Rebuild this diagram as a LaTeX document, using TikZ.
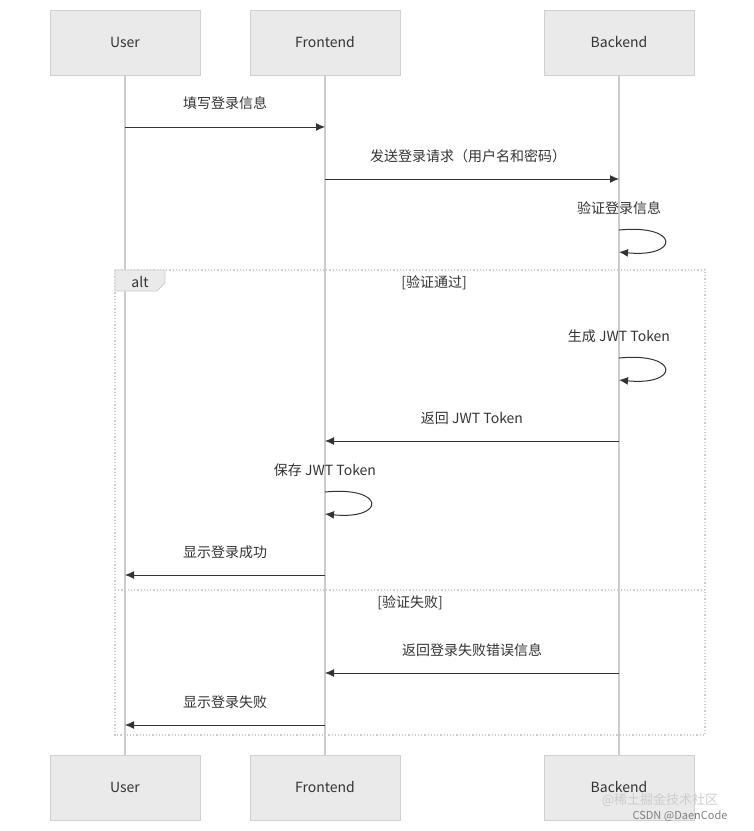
\documentclass[tikz,border=0pt]{standalone}
\usepackage{fontspec}
\setmainfont{Noto Sans CJK SC}
\usetikzlibrary{arrows.meta}
\definecolor{boxfill}{HTML}{EAEAEA}
\definecolor{boxline}{HTML}{D0D0D0}
\definecolor{life}{HTML}{CCCCCC}
\definecolor{ink}{HTML}{333333}
\tikzset{
 actor/.style={draw=boxline,fill=boxfill,minimum width=150pt,minimum height=65pt,inner sep=0pt,font=\fontsize{14}{16}\selectfont,text=ink},
 msg/.style={draw=ink,line width=1pt,-{Latex[length=9pt,width=8pt]}},
 lbl/.style={font=\fontsize{14}{16}\selectfont,text=ink,inner sep=0pt},
 life/.style={draw=life,line width=1.3pt},
 frame/.style={draw=life,dotted,line width=1.2pt},
}
\begin{document}
\begin{tikzpicture}[x=1pt,y=-1pt]
\useasboundingbox (0,0) rectangle (754,831);
% lifelines
\draw[life] (125,75) -- (125,755);
\draw[life] (325,75) -- (325,755);
\draw[life] (619,75) -- (619,755);
% actors
\node[actor] (u1) at (125,42.5) {User};
\node[actor] (f1) at (325,42.5) {Frontend};
\node[actor] (b1) at (619,42.5) {Backend};
\node[actor] (u2) at (125,787.5) {User};
\node[actor] (f2) at (325,787.5) {Frontend};
\node[actor] (b2) at (619,787.5) {Backend};
% coordinates
\coordinate (u127) at (125,127); \coordinate (f127) at (325,127);
\coordinate (f179) at (325,179); \coordinate (b179) at (619,179);
\coordinate (b441) at (619,441); \coordinate (f441) at (325,441);
\coordinate (f575) at (325,575); \coordinate (u575) at (125,575);
\coordinate (b673) at (619,673); \coordinate (f673) at (325,673);
\coordinate (f725) at (325,725); \coordinate (u725) at (125,725);
% messages
\node[lbl] (m1) at (225,103) {填写登录信息};
\draw[msg] (u127) -- (f127);
\node[lbl] (m2) at (468,156) {发送登录请求（用户名和密码）};
\draw[msg] (f179) -- (b179);
\node[lbl] (m3) at (619,208) {验证登录信息};
\draw[msg] (619,230) .. controls (680,224) and (680,258) .. (619,252);
% alt frame
\draw[frame] (115,270) rectangle (705,735);
\draw[frame] (115,590) -- (705,590);
\draw[draw=life,fill=boxfill,line width=0.8pt] (115,270) -- (165,270) -- (165,283) -- (157,291) -- (115,291) -- cycle;
\node[lbl] (alt) at (140,282) {alt};
\node[lbl] (g1) at (434,283) {[验证通过]};
\node[lbl] (m4) at (619,336) {生成 JWT Token};
\draw[msg] (619,358) .. controls (680,352) and (680,386) .. (619,380);
\node[lbl] (m5) at (472,418) {返回 JWT Token};
\draw[msg] (b441) -- (f441);
\node[lbl] (m6) at (325,470) {保存 JWT Token};
\draw[msg] (325,492) .. controls (386,486) and (386,520) .. (325,514);
\node[lbl] (m7) at (225,552) {显示登录成功};
\draw[msg] (f575) -- (u575);
\node[lbl] (g2) at (410,603) {[验证失败]};
\node[lbl] (m8) at (472,650) {返回登录失败错误信息};
\draw[msg] (b673) -- (f673);
\node[lbl] (m9) at (225,702) {显示登录失败};
\draw[msg] (f725) -- (u725);
% watermark
\node[font=\fontsize{13}{15}\selectfont,text=white!60!gray,inner sep=0pt] (w1) at (660,800) {@稀土掘金技术社区};
\node[font=\fontsize{11}{13}\selectfont,text=gray,inner sep=0pt] (w2) at (680,816) {CSDN @DaenCode};
\end{tikzpicture}
\end{document}
